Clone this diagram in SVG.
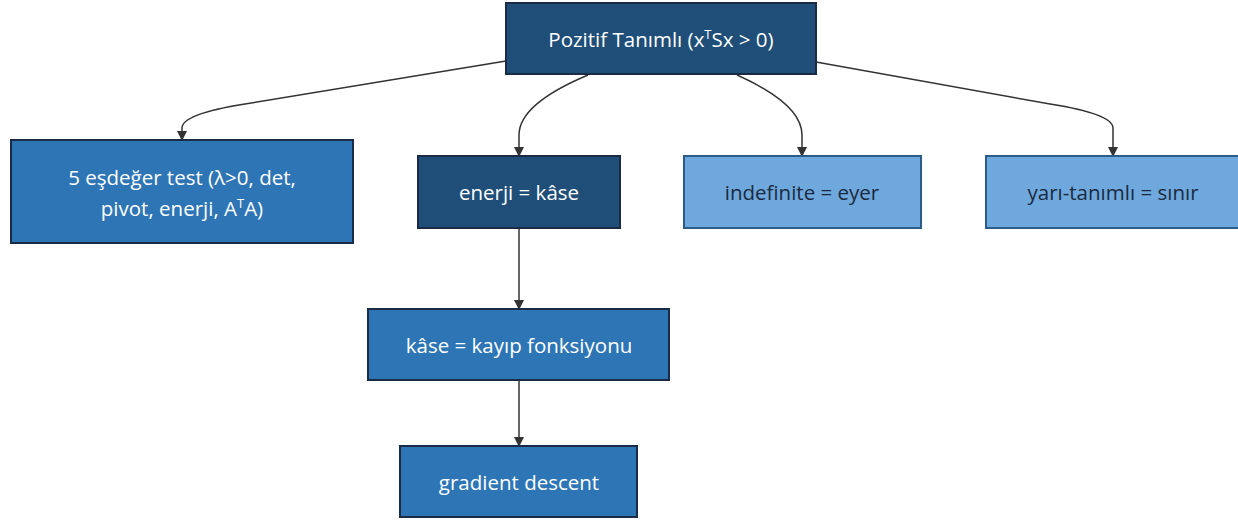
<svg xmlns="http://www.w3.org/2000/svg" width="1238" height="523" viewBox="0 0 1238 523">
  <defs>
    <marker id="arrow" viewBox="0 0 10 10" refX="9" refY="5" markerWidth="10" markerHeight="10" markerUnits="userSpaceOnUse" orient="auto">
      <path d="M0,0 L10,5 L0,10 z" fill="#333333"/>
    </marker>
  </defs>
  <style>
    .node rect { stroke-width: 2; }
    .dark rect { fill: #1f4e79; stroke: #1a2b45; }
    .mid rect { fill: #2e75b6; stroke: #1a2b45; }
    .light rect { fill: #6fa8dc; stroke: #2b5c88; }
    .node text { font-family: "Open Sans", "Noto Sans", "DejaVu Sans", sans-serif; font-size: 20.5px; text-anchor: middle; dominant-baseline: central; }
    .dark text, .mid text { fill: #ffffff; }
    .light text { fill: #1a2a40; }
    .sup { font-size: 13px; }
    .edge { fill: none; stroke: #333333; stroke-width: 1.5; marker-end: url(#arrow); }
  </style>

  <!-- connectors -->
  <g id="connectors">
    <path class="edge" d="M506,61 L245,104 Q182,114 182,128 L182,140"/>
    <path class="edge" d="M588,75 Q519,104 519,135 L519,156"/>
    <path class="edge" d="M737,75 Q802,104 802,135 L802,156"/>
    <path class="edge" d="M816,62 L1050,104 Q1113,114 1113,128 L1113,156"/>
    <path class="edge" d="M519,228 L519,309"/>
    <path class="edge" d="M519,380 L519,446"/>
  </g>

  <g id="root" class="node dark">
    <rect x="506" y="3" width="310" height="71"/>
    <text x="661" y="39">Pozitif Tanımlı (x<tspan class="sup" dy="-5">T</tspan><tspan dy="5">Sx &gt; 0)</tspan></text>
  </g>

  <g id="tests" class="node mid">
    <rect x="11" y="140" width="342" height="103"/>
    <text x="182" y="177">5 eşdeğer test (λ&gt;0, det,</text>
    <text x="182" y="208">pivot, enerji, A<tspan class="sup" dy="-5">T</tspan><tspan dy="5">A)</tspan></text>
  </g>

  <g id="energy" class="node dark">
    <rect x="418" y="156" width="202" height="72"/>
    <text x="519" y="192">enerji = kâse</text>
  </g>

  <g id="indefinite" class="node light">
    <rect x="684" y="156" width="237" height="72"/>
    <text x="802" y="192">indefinite = eyer</text>
  </g>

  <g id="semidefinite" class="node light">
    <rect x="986" y="156" width="255" height="72"/>
    <text x="1113" y="192">yarı-tanımlı = sınır</text>
  </g>

  <g id="loss" class="node mid">
    <rect x="368" y="309" width="301" height="71"/>
    <text x="519" y="345">kâse = kayıp fonksiyonu</text>
  </g>

  <g id="descent" class="node mid">
    <rect x="400" y="446" width="237" height="71"/>
    <text x="519" y="482">gradient descent</text>
  </g>
</svg>
